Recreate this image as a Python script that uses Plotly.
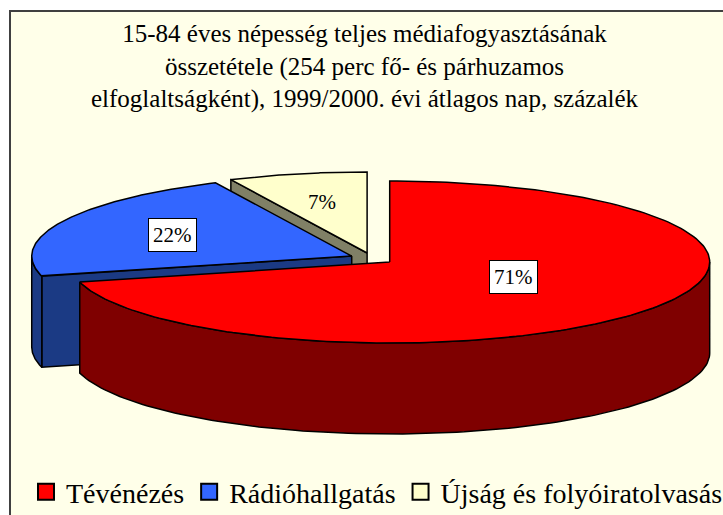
import numpy as np
import plotly.graph_objects as go

# ---------------- data ----------------
CATEGORIES = ["Tévénézés", "Rádióhallgatás", "Újság és folyóiratolvasás"]
VALUES = [71, 22, 7]
LABELS = ["71%", "22%", "7%"]
TITLE = ("15-84 éves népesség teljes médiafogyasztásának<br>"
         "összetétele (254 perc fő- és párhuzamos<br>"
         "elfoglaltságként), 1999/2000. évi átlagos nap, százalék")

# ---------------- style ----------------
TOP_COLORS = ["#FF0000", "#3366FF", "#FFFFCC"]
SIDE_COLORS = ["#7F0000", "#1B3A84", "#808066"]
LABEL_BOX = [True, True, False]
LABEL_FRAC_X = [0.49, 0.62, 0.64]
LABEL_FRAC_Y = [0.30, 0.62, 0.64]

W, H = 723, 515
CX, CY = 372, 258.5      # pie centre (pixels)
RX, RY = 320, 81         # ellipse radii
DEPTH = 91               # thickness
EXPLODE = 0.07           # explode fraction
FONT = "Liberation Serif, Times New Roman, Tinos, DejaVu Serif, serif"
BG = "#FFFFE9"

fig = go.Figure()


def rim(cx, cy, ang_deg, dz=0.0):
    a = np.radians(np.asarray(ang_deg, dtype=float))
    return cx + RX * np.sin(a), cy - RY * np.cos(a) + dz


def face(xs, ys, color):
    fig.add_trace(go.Scatter(
        x=list(xs), y=list(ys), mode="lines", fill="toself",
        fillcolor=color, line=dict(color="black", width=1.5),
        hoverinfo="skip", showlegend=False))


total = float(sum(VALUES))
starts = np.concatenate([[0], np.cumsum(VALUES)[:-1]]) / total * 360
ends = np.cumsum(VALUES) / total * 360
mids = (starts + ends) / 2

slices = []
for i in range(len(VALUES)):
    m = np.radians(mids[i])
    cx = CX + EXPLODE * RX * np.sin(m)
    cy = CY - EXPLODE * RY * np.cos(m)
    slices.append((i, cx, cy))

# paint back-to-front
order = sorted(range(len(VALUES)), key=lambda i: -np.cos(np.radians(mids[i])))
for i in order:
    _, cx, cy = slices[i]
    a0, a1 = starts[i], ends[i]
    # radial cut faces that face the viewer
    for a, nrm in ((a0, a0 - 90), (a1, a1 + 90)):
        if np.cos(np.radians(nrm)) < -1e-6:
            rx_, ry_ = rim(cx, cy, [a])
            face([cx, rx_[0], rx_[0], cx, cx],
                 [cy, ry_[0], ry_[0] + DEPTH, cy + DEPTH, cy], SIDE_COLORS[i])
    # outer wall (front half: 90..270 degrees)
    b0, b1 = max(a0, 90), min(a1, 270)
    if b1 > b0:
        arc = np.linspace(b0, b1, 120)
        tx, ty = rim(cx, cy, arc)
        bx, by = rim(cx, cy, arc[::-1], DEPTH)
        face(np.concatenate([tx, bx, tx[:1]]), np.concatenate([ty, by, ty[:1]]),
             SIDE_COLORS[i])
    # top face
    arc = np.linspace(a0, a1, 200)
    tx, ty = rim(cx, cy, arc)
    face(np.concatenate([[cx], tx, [cx]]), np.concatenate([[cy], ty, [cy]]),
         TOP_COLORS[i])

# percentage labels
for i, (_, cx, cy) in enumerate(slices):
    m = np.radians(mids[i])
    lx = cx + LABEL_FRAC_X[i] * RX * np.sin(m)
    ly = cy - LABEL_FRAC_Y[i] * RY * np.cos(m)
    fig.add_annotation(
        x=lx, y=ly, text=LABELS[i], showarrow=False,
        font=dict(family=FONT, size=21, color="black"),
        bgcolor="white" if LABEL_BOX[i] else "rgba(0,0,0,0)",
        bordercolor="black" if LABEL_BOX[i] else "rgba(0,0,0,0)",
        borderwidth=1, borderpad=4)

# title
fig.add_annotation(
    xref="paper", yref="paper", x=0.505, xanchor="center",
    y=1 - 66 / H, yanchor="middle", text=TITLE, showarrow=False,
    font=dict(family=FONT, size=25, color="black"))

# legend entries
for cat, col in zip(CATEGORIES, TOP_COLORS):
    fig.add_trace(go.Scatter(
        x=[None], y=[None], mode="markers", name=cat,
        marker=dict(symbol="square", size=16, color=col,
                    line=dict(color="black", width=2))))

# chart frame
fig.add_shape(type="rect", xref="paper", yref="paper",
              x0=10 / W, y0=1 - 11 / H, x1=1.05, y1=-0.05,
              fillcolor=BG, line=dict(color="#404040", width=2), layer="below")

fig.update_layout(
    width=W, height=H, margin=dict(l=0, r=0, t=0, b=0, autoexpand=False),
    paper_bgcolor="white", plot_bgcolor="rgba(0,0,0,0)",
    xaxis=dict(range=[0, W], visible=False, fixedrange=True),
    yaxis=dict(range=[H, 0], visible=False, fixedrange=True),
    showlegend=True,
    legend=dict(orientation="h", x=26 / W, xanchor="left",
                y=1 - 492 / H, yanchor="middle",
                font=dict(family=FONT, size=28, color="black"),
                bgcolor="rgba(0,0,0,0)", itemclick=False, itemdoubleclick=False),
)

fig.write_html("out.html", config={"displayModeBar": False},
               post_script="document.body.style.margin='0';")
